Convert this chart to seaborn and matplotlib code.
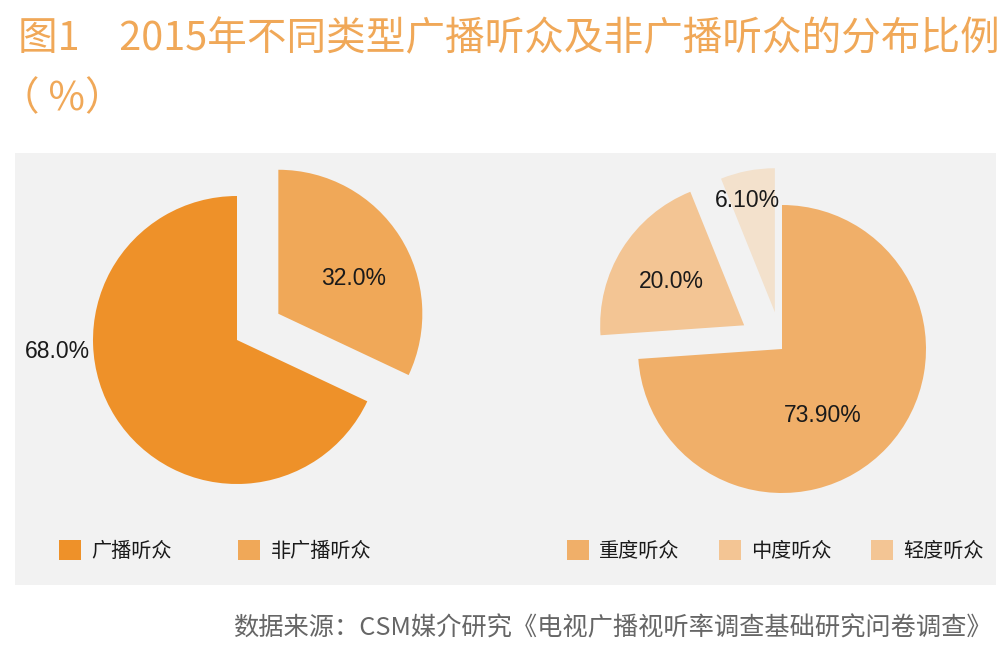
import matplotlib
matplotlib.use("Agg")
import matplotlib.pyplot as plt
from matplotlib.patches import Rectangle, Patch
import seaborn as sns

# ---- data ----
title_line1 = "图1　2015年不同类型广播听众及非广播听众的分布比例"
title_line2 = "（ %）"
source_text = "数据来源：CSM媒介研究《电视广播视听率调查基础研究问卷调查》"

left_categories = ["广播听众", "非广播听众"]
left_values = [68.0, 32.0]
left_labels = ["68.0%", "32.0%"]

right_categories = ["重度听众", "中度听众", "轻度听众"]
right_values = [73.9, 20.0, 6.1]
right_labels = ["73.90%", "20.0%", "6.10%"]

# ---- style ----
sns.set_theme(style="white")
plt.rcParams['font.family'] = ['Noto Sans CJK SC', 'DejaVu Sans']

left_colors = ["#EE9129", "#F0A858"]
right_colors = ["#F0AF69", "#F3C594", "#F3E1CC"]
right_legend_colors = ["#F0AF69", "#F3C594", "#F3C594"]

W, H = 1005, 660
R = 144.0  # pie radius in pixels
fig = plt.figure(figsize=(W / 100, H / 100), dpi=100)
fig.patch.set_facecolor("white")

# grey panel
fig.patches.append(Rectangle((15 / W, (H - 585) / H), (996 - 15) / W, (585 - 153) / H,
                             transform=fig.transFigure, facecolor="#F2F2F2",
                             edgecolor="none", zorder=-10))

def pie_axes(cx, cy, box=420):
    ax = fig.add_axes([(cx - box / 2) / W, (H - cy - box / 2) / H, box / W, box / H])
    ax.set_facecolor("none")
    ax.set_zorder(5)
    return ax, box / 2 / R

txt_props = dict(fontsize=16.5, color="#1a1a1a", family=['Liberation Sans', 'DejaVu Sans'])

# left pie
axl, lim = pie_axes(237, 340)
wl, tl = axl.pie(left_values, colors=left_colors, startangle=90, counterclock=True,
                 explode=[0, 0.34], radius=1, labels=left_labels, labeldistance=1.2,
                 wedgeprops=dict(linewidth=0, edgecolor="none"),
                 textprops=txt_props)
left_label_pos = [(-1.25, -0.08), (0.81, 0.43)]
for t, p in zip(tl, left_label_pos):
    t.set_position(p)
    t.set_ha("center")
    t.set_va("center")
axl.set_xlim(-lim, lim)
axl.set_ylim(-lim, lim)
axl.set_aspect("equal")
axl.axis("off")

# right pie
axr, lim = pie_axes(782, 349)
wr, tr = axr.pie(right_values, colors=right_colors, startangle=90, counterclock=False,
                 explode=[0, 0.31, 0.26], radius=1, labels=right_labels, labeldistance=1.2,
                 wedgeprops=dict(linewidth=0, edgecolor="none"),
                 textprops=txt_props)
right_label_pos = [(0.28, -0.46), (-0.77, 0.47), (-0.24, 1.03)]
for t, p in zip(tr, right_label_pos):
    t.set_position(p)
    t.set_ha("center")
    t.set_va("center")
axr.set_xlim(-lim, lim)
axr.set_ylim(-lim, lim)
axr.set_aspect("equal")
axr.axis("off")

# legends
def make_legend(cats, cols, x_px, spacing):
    handles = [Patch(facecolor=c, edgecolor="none") for c in cols]
    leg = fig.legend(handles, cats, loc="center left",
                     bbox_to_anchor=(x_px / W, (H - 551) / H), ncol=len(cats),
                     frameon=False, fontsize=14.5, handlelength=1.1, handleheight=1.1,
                     handletextpad=0.5, columnspacing=spacing, borderpad=0,
                     borderaxespad=0)
    for t in leg.get_texts():
        t.set_color("#1a1a1a")
    return leg

make_legend(left_categories, left_colors, 59, 3.3)
make_legend(right_categories, right_legend_colors, 567, 1.95)

# title
fig.text(18 / W, 1 - 39 / H, title_line1, fontsize=28.5, color="#F0A858",
         fontweight="light", ha="left", va="center")
fig.text(0 / W, 1 - 99 / H, title_line2, fontsize=28.5, color="#F0A858",
         fontweight="light", ha="left", va="center")

# source
fig.text(992 / W, 1 - 628 / H, source_text, fontsize=18.2, color="#666666",
         ha="right", va="center")

fig.savefig("out.png", dpi=100)
